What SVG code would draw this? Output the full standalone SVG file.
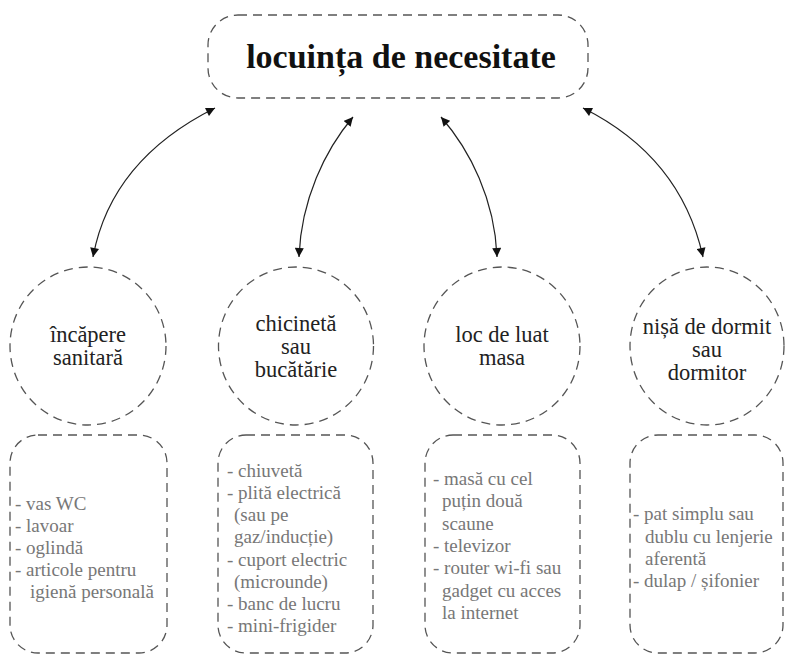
<svg xmlns="http://www.w3.org/2000/svg" width="785" height="656" viewBox="0 0 785 656">
<defs>
<style>
.shape{fill:none;stroke:#555;stroke-width:1.3;stroke-dasharray:9 6}
.title{font-family:"Liberation Serif","DejaVu Serif",serif;font-size:34px;font-weight:bold;fill:#111;text-anchor:middle}
.lbl{font-family:"Liberation Serif","DejaVu Serif",serif;font-size:22.5px;fill:#222;text-anchor:middle}
.item{font-family:"Liberation Serif","DejaVu Serif",serif;font-size:19px;fill:#777}
.conn{fill:none;stroke:#222;stroke-width:1.2;marker-start:url(#ah);marker-end:url(#ah)}
</style>
<marker id="ah" viewBox="0 0 10 10" refX="10" refY="5" markerWidth="10" markerHeight="9" markerUnits="userSpaceOnUse" orient="auto-start-reverse">
<path d="M0,0 L10,5 L0,10 z" fill="#111"/>
</marker>
</defs>
<rect width="785" height="656" fill="#fff"/>

<g id="connectors">
<path class="conn" d="M93,257 Q111,160 215,108"/>
<path class="conn" d="M299,257 C301,200 325,150 353,117"/>
<path class="conn" d="M497,257 C495,200 470,150 441,117"/>
<path class="conn" d="M703,257 Q681,157 583,108"/>
</g>

<g id="root">
<rect class="shape" x="208" y="15" width="380" height="83" rx="30"/>
<text class="title" x="401" y="68">locuința de necesitate</text>
</g>

<g id="c1">
<ellipse class="shape" cx="88" cy="346" rx="78" ry="79"/>
<text class="lbl" x="88" y="342">încăpere</text>
<text class="lbl" x="88" y="365">sanitară</text>
</g>
<g id="c2">
<ellipse class="shape" cx="296" cy="346" rx="77.5" ry="79"/>
<text class="lbl" x="296" y="331">chicinetă</text>
<text class="lbl" x="296" y="354">sau</text>
<text class="lbl" x="296" y="377">bucătărie</text>
</g>
<g id="c3">
<ellipse class="shape" cx="502" cy="346" rx="78" ry="79"/>
<text class="lbl" x="502" y="342">loc de luat</text>
<text class="lbl" x="502" y="365">masa</text>
</g>
<g id="c4">
<ellipse class="shape" cx="707" cy="346" rx="77" ry="79"/>
<text class="lbl" x="707" y="334">nișă de dormit</text>
<text class="lbl" x="707" y="357">sau</text>
<text class="lbl" x="707" y="380">dormitor</text>
</g>

<g id="b1">
<rect class="shape" x="10" y="435" width="157" height="218" rx="28"/>
<text class="item" x="15" y="510">- vas WC</text>
<text class="item" x="15" y="532">- lavoar</text>
<text class="item" x="15" y="554">- oglindă</text>
<text class="item" x="15" y="576">- articole pentru</text>
<text class="item" x="30" y="598">igienă personală</text>
</g>
<g id="b2">
<rect class="shape" x="218" y="435" width="155" height="218" rx="28"/>
<text class="item" x="227" y="477">- chiuvetă</text>
<text class="item" x="227" y="499">- plită electrică</text>
<text class="item" x="234" y="521">(sau pe</text>
<text class="item" x="234" y="543">gaz/inducție)</text>
<text class="item" x="227" y="566">- cuport electric</text>
<text class="item" x="234" y="588">(microunde)</text>
<text class="item" x="227" y="610">- banc de lucru</text>
<text class="item" x="227" y="632">- mini-frigider</text>
</g>
<g id="b3">
<rect class="shape" x="425" y="435" width="155" height="218" rx="28"/>
<text class="item" x="433" y="485">- masă cu cel</text>
<text class="item" x="442" y="507">puțin două</text>
<text class="item" x="442" y="530">scaune</text>
<text class="item" x="433" y="552">- televizor</text>
<text class="item" x="433" y="574">- router wi-fi sau</text>
<text class="item" x="442" y="597">gadget cu acces</text>
<text class="item" x="442" y="619">la internet</text>
</g>
<g id="b4">
<rect class="shape" x="630" y="435" width="153" height="218" rx="28"/>
<text class="item" x="633" y="520">- pat simplu sau</text>
<text class="item" x="645" y="543">dublu cu lenjerie</text>
<text class="item" x="645" y="565">aferentă</text>
<text class="item" x="633" y="587">- dulap / șifonier</text>
</g>
</svg>
